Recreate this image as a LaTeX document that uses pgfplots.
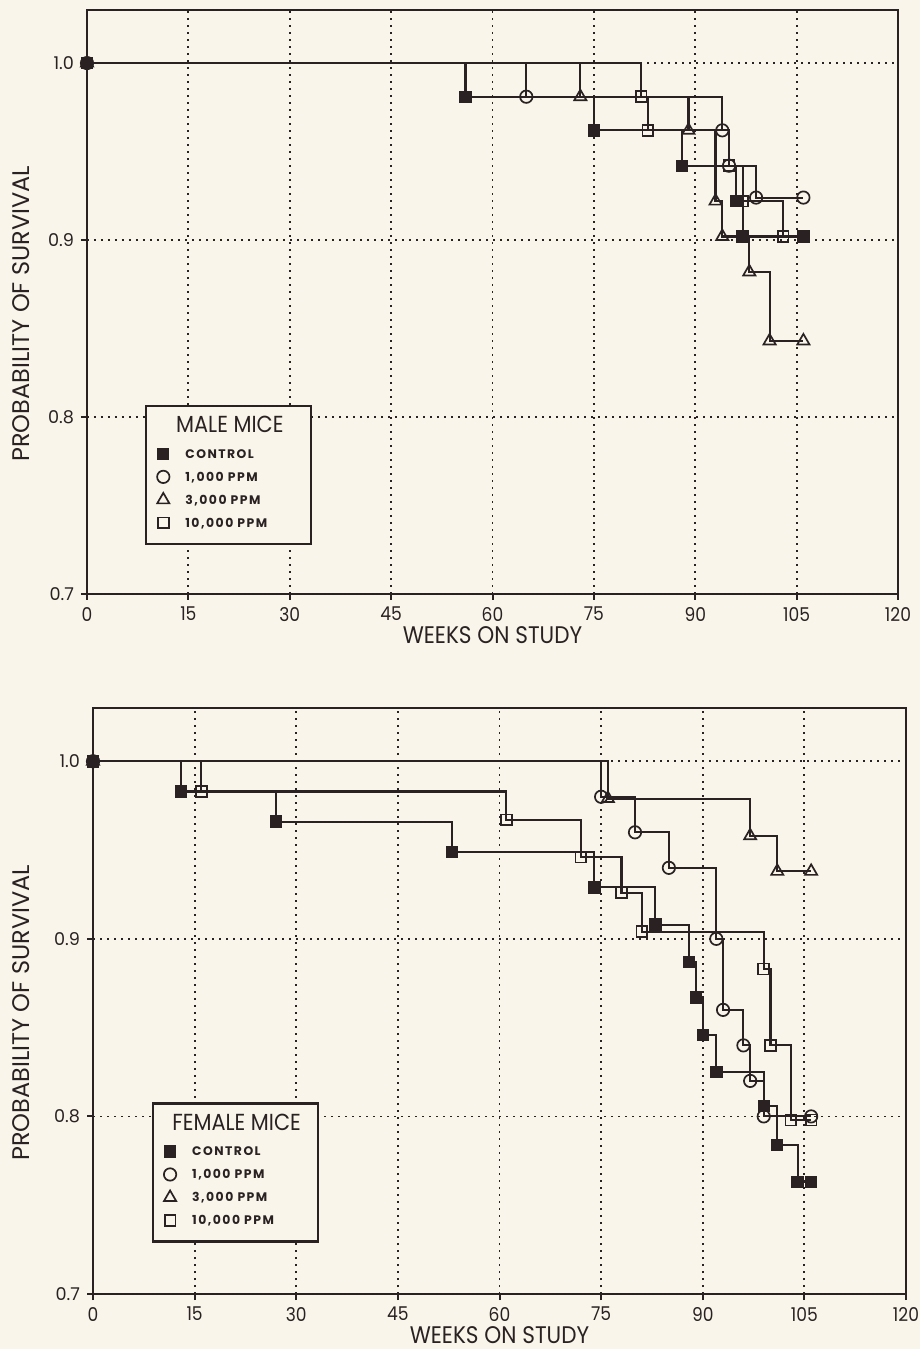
\documentclass[border=0pt]{standalone}
\usepackage{pgfplots}
\pgfplotsset{compat=1.18}
\usepackage{fontspec}
\setmainfont{Poppins}
\newfontfamily\condfont{Poppins}[FakeStretch=0.9]
\newfontfamily\legfont{Poppins}[LetterSpace=12]
\definecolor{ink}{HTML}{2A2222}
\definecolor{bg}{HTML}{F9F5EA}

\tikzset{
  legT/.style={text height=8.65pt, text depth=4.85pt},
  legE/.style={text height=7.9pt, text depth=3.6pt},
}
\pgfplotsset{
  km/.style={
    scale only axis,
    xmin=0, xmax=120, ymin=0.7, ymax=1.03,
    xtick={0,15,...,120}, ytick={0.7,0.8,0.9,1.0},
    axis line style={draw=ink, line width=1.3pt},
    tick style={draw=ink, line width=1pt},
    tick align=outside, tick pos=left,
    major tick length=3pt,
    grid=major,
    major grid style={draw=ink, line width=0.9pt, dash pattern=on 0.9pt off 2.6pt},
    /pgf/number format/assume math mode=true,
    xticklabel style={font=\condfont\fontsize{9.5}{10}\selectfont, text=ink},
    yticklabel style={font=\fontsize{8.8}{10}\selectfont, text=ink,
      /pgf/number format/.cd, fixed, fixed zerofill, precision=1},
    xlabel={WEEKS ON STUDY},
    ylabel={PROBABILITY OF SURVIVAL},
    x label style={font=\condfont\fontsize{12}{14}\selectfont, text=ink,
      at={(axis description cs:0.5,-0.07)}, anchor=center},
    clip=false,
    legend style={
      anchor=north west,
      draw=ink, line width=1.1pt, fill=bg,
      inner xsep=0pt, inner ysep=4.75pt,
      row sep=0pt, column sep=0pt,
      nodes={inner sep=0pt, text=ink},
    },
    legend cell align=left,
    legend image code/.code={\path (-8pt,0pt) (10.5pt,0pt);
      \draw[##1] plot[only marks] coordinates {(0pt,0pt)};},
  },
  kmline/.style={const plot, draw=ink, line width=1.05pt},
  ctrl/.style={kmline, mark=square*, mark size=2.7pt, mark options={draw=ink, fill=ink, solid, line width=0.8pt}},
  pa/.style={kmline, mark=o, mark size=3.1pt, mark options={draw=ink, solid, line width=0.85pt}},
  pb/.style={kmline, mark=triangle, mark size=3.5pt, mark options={draw=ink, solid, line width=0.85pt}},
  pc/.style={kmline, mark=square, mark size=2.7pt, mark options={draw=ink, solid, line width=0.85pt}},
}
\newcommand{\legtitle}[1]{\hspace*{-18.5pt}\makebox[81.5pt][c]{\condfont\fontsize{11.6}{12}\selectfont #1}}
\newcommand{\legent}[1]{\makebox[63pt][l]{\legfont\bfseries\fontsize{6.2}{7}\selectfont #1}}

\begin{document}
\begin{tikzpicture}
\fill[bg] (0,0) rectangle (460pt,674.5pt);
\useasboundingbox (0,0) rectangle (460pt,674.5pt);

% ---------------- MALE ----------------
\begin{axis}[km,
  at={(43.5pt,377.5pt)}, anchor=south west,
  width=405.5pt, height=292pt,
  y label style={font=\fontsize{12}{13}\selectfont, text=ink,
    at={(axis description cs:-0.0814,0.48)}, anchor=center},
  legend style={at={(axis description cs:0.0717,0.324)}},
]
\addlegendimage{empty legend}
\addlegendentry[legT]{\legtitle{MALE MICE}}
\addplot[ctrl] coordinates {(0,1.0) (56,0.981) (75,0.962) (88,0.942) (96,0.922) (97,0.902) (106,0.902)};
\addlegendentry[legE]{\legent{CONTROL}}
\addplot[pa] coordinates {(0,1.0) (65,0.981) (94,0.962) (95,0.942) (99,0.924) (106,0.924)};
\addlegendentry[legE]{\legent{1,000 PPM}}
\addplot[pb] coordinates {(0,1.0) (73,0.981) (89,0.962) (93,0.922) (94,0.902) (98,0.882) (101,0.843) (106,0.843)};
\addlegendentry[legE]{\legent{3,000 PPM}}
\addplot[pc] coordinates {(0,1.0) (82,0.981) (83,0.962) (95,0.942) (97,0.922) (103,0.902) (106,0.902)};
\addlegendentry[legE]{\legent{10,000 PPM}}
\end{axis}

% ---------------- FEMALE ----------------
\begin{axis}[km,
  at={(46.5pt,27.5pt)}, anchor=south west,
  width=406.5pt, height=293pt,
  y label style={font=\fontsize{12}{13}\selectfont, text=ink,
    at={(axis description cs:-0.0886,0.48)}, anchor=center},
  legend style={at={(axis description cs:0.0725,0.327)}},
]
\addlegendimage{empty legend}
\addlegendentry[legT]{\legtitle{FEMALE MICE}}
\addplot[ctrl] coordinates {(0,1.0) (13,0.983) (27,0.966) (53,0.949) (74,0.929) (83,0.908) (88,0.887) (89,0.867) (90,0.846) (92,0.825) (99,0.806) (101,0.784) (104,0.763) (106,0.763)};
\addlegendentry[legE]{\legent{CONTROL}}
\addplot[pa] coordinates {(0,1.0) (75,0.980) (80,0.960) (85,0.940) (92,0.900) (93,0.860) (96,0.840) (97,0.820) (99,0.800) (106,0.800)};
\addlegendentry[legE]{\legent{1,000 PPM}}
\addplot[pb] coordinates {(0,1.0) (76,0.979) (97,0.958) (101,0.938) (106,0.938)};
\addlegendentry[legE]{\legent{3,000 PPM}}
\addplot[pc] coordinates {(0,1.0) (16,0.983) (61,0.967) (72,0.946) (78,0.926) (81,0.904) (99,0.883) (100,0.840) (103,0.798) (106,0.798)};
\addlegendentry[legE]{\legent{10,000 PPM}}
\end{axis}
\end{tikzpicture}
\end{document}
